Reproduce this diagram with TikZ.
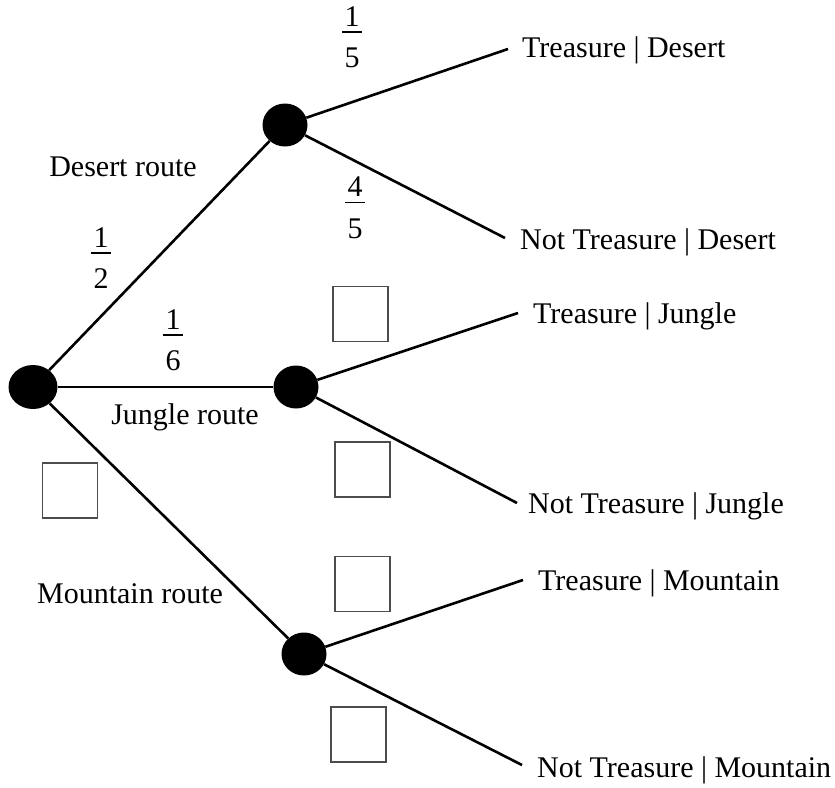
\documentclass[tikz,border=0pt]{standalone}
\usepackage{fontspec}
\setmainfont{Liberation Serif}
\usetikzlibrary{shapes.geometric}
\newcommand{\myfr}[2]{\vbox{\offinterlineskip\hbox to 20pt{\hss#1\hss}\kern5pt\hrule height 1.5pt\kern15pt\hbox to 20pt{\hss#2\hss}}}
\begin{document}
\begin{tikzpicture}[x=1pt,y=-1pt,
  font=\fontsize{30}{36}\selectfont,
  dot/.style={ellipse, fill=black, inner sep=0pt, minimum width=45pt, minimum height=43pt},
  branch/.style={line width=2.6pt},
  blank/.style={draw=black!70, line width=1.4pt, minimum size=55pt, inner sep=0pt},
  lbl/.style={anchor=base, inner sep=0pt},
  leaf/.style={anchor=base west, inner sep=0pt},
  frac/.style={anchor=north, inner sep=0pt}]
\useasboundingbox (0,0) rectangle (835,787);

% branch points
\node[dot, minimum width=49pt, minimum height=44pt] (root) at (33,387) {};
\node[dot] (desert) at (285,125) {};
\node[dot] (jungle) at (296,387) {};
\node[dot] (mountain) at (304,654) {};

% leaf line ends
\coordinate (eTD) at (508,49);
\coordinate (eND) at (505,238);
\coordinate (eTJ) at (518,313);
\coordinate (eNJ) at (517,503);
\coordinate (eTM) at (523,580);
\coordinate (eNM) at (522,765);

% branches
\draw[branch] (root) -- (desert);
\draw[branch] (root) -- (jungle);
\draw[branch] (root) -- (mountain);
\draw[branch] (desert) -- (eTD);
\draw[branch] (desert) -- (eND);
\draw[branch] (jungle) -- (eTJ);
\draw[branch] (jungle) -- (eNJ);
\draw[branch] (mountain) -- (eTM);
\draw[branch] (mountain) -- (eNM);

% leaf labels
\node[leaf] (tTD) at (522,57) {Treasure | Desert};
\node[leaf] (tND) at (520,249) {Not Treasure | Desert};
\node[leaf] (tTJ) at (533,323) {Treasure | Jungle};
\node[leaf] (tNJ) at (528,513) {Not Treasure | Jungle};
\node[leaf] (tTM) at (538,590) {Treasure | Mountain};
\node[leaf] (tNM) at (537,777) {Not Treasure | Mountain};

% route labels
\node[lbl] (lD) at (123,176) {Desert route};
\node[lbl] (lJ) at (185,424) {Jungle route};
\node[lbl] (lM) at (130,603) {Mountain route};

% probabilities
\node[frac] (f12) at (101,227) {\myfr{1}{2}};
\node[frac] (f15) at (352,6) {\myfr{1}{5}};
\node[frac] (f45) at (355,177) {\myfr{4}{5}};
\node[frac] (f16) at (173,309) {\myfr{1}{6}};

% answer boxes
\node[blank] (b1) at (360.5,314) {};
\node[blank] (b2) at (362.5,469.5) {};
\node[blank] (b3) at (362.5,584) {};
\node[blank] (b4) at (358.5,734.5) {};
\node[blank] (b5) at (70,490.5) {};
\end{tikzpicture}
\end{document}
